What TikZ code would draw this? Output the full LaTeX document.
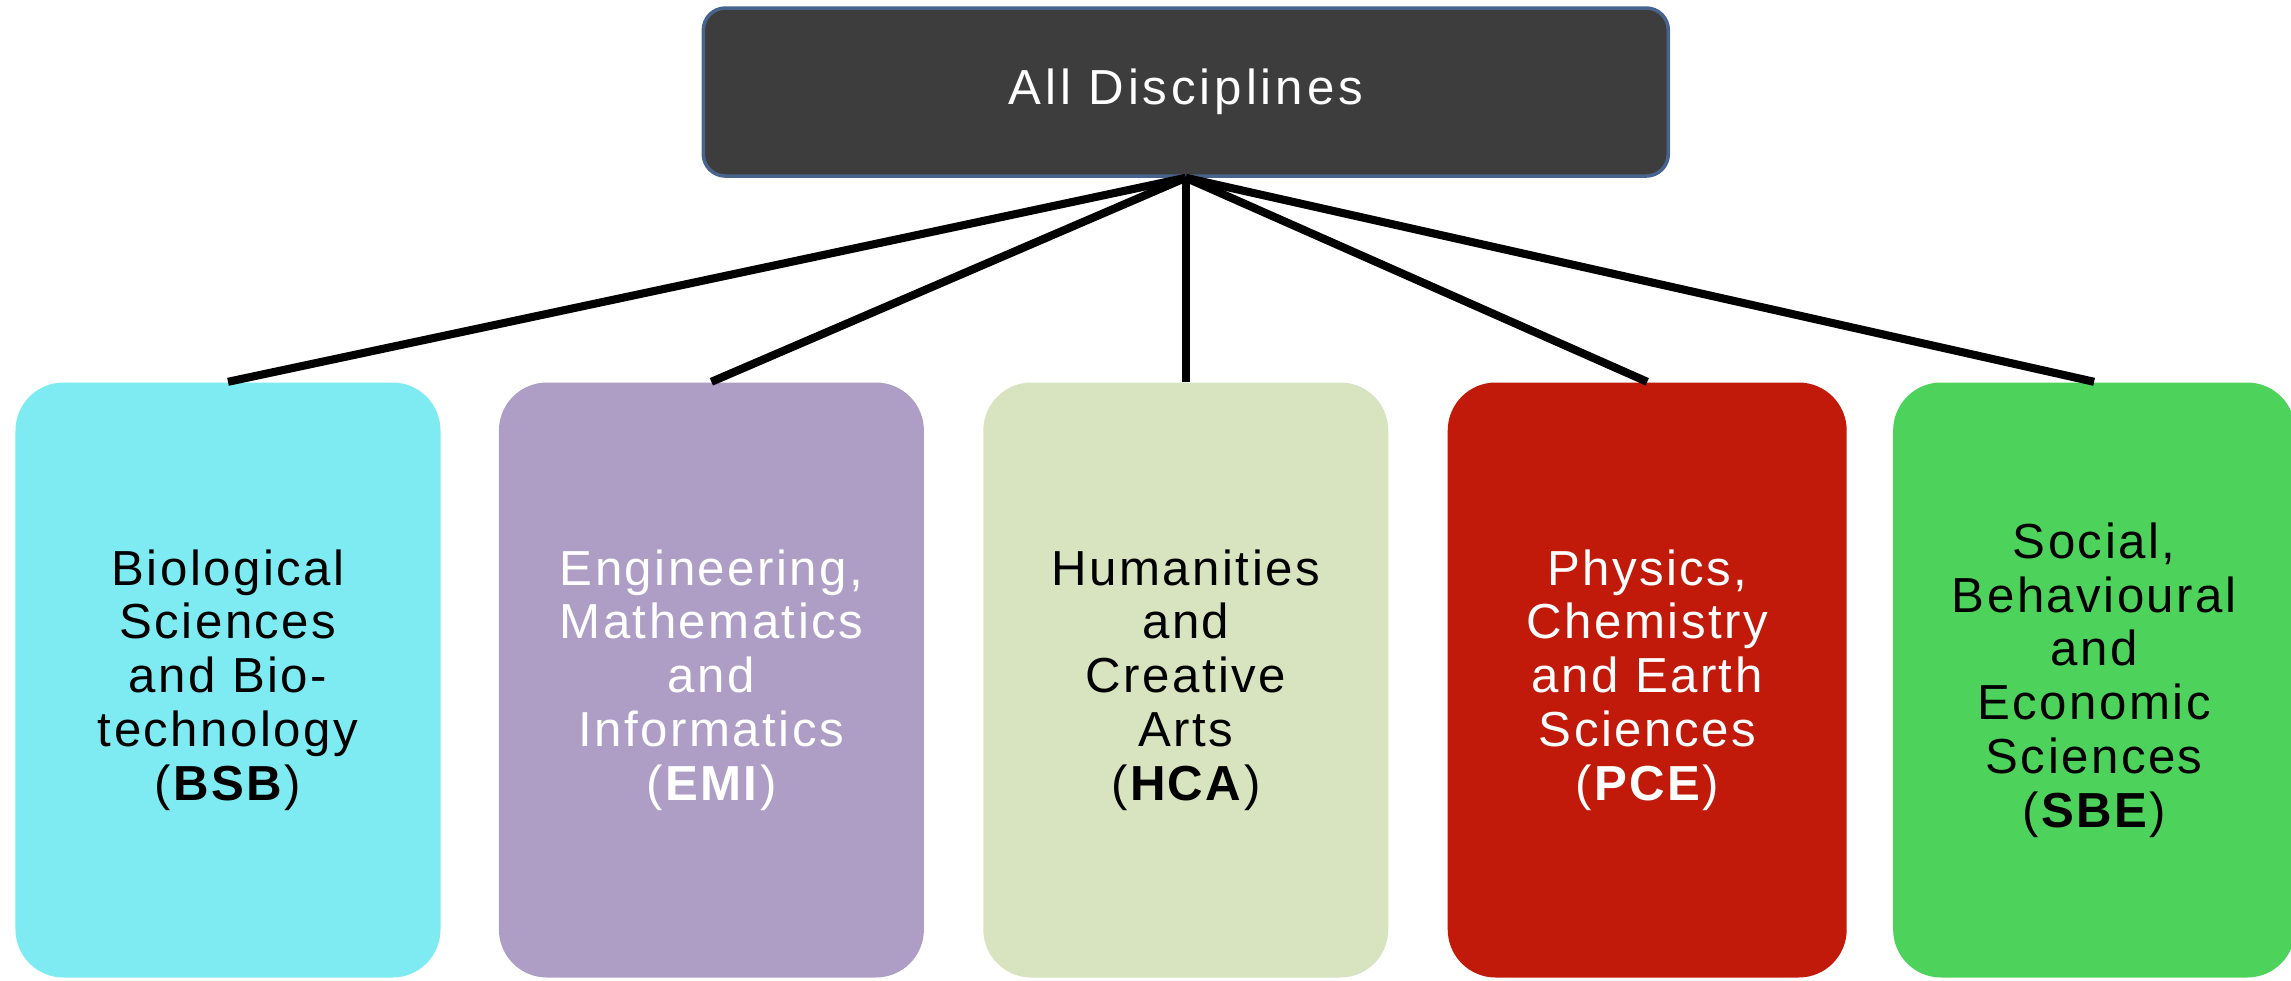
\documentclass[tikz,border=0pt]{standalone}
\usepackage{fontspec}
\setmainfont[LetterSpace=5]{Liberation Sans}
\usepackage{xcolor}
\usepackage{tikz}
\usetikzlibrary{positioning}

\definecolor{rootgray}{HTML}{3D3D3D}
\definecolor{rootedge}{HTML}{46648C}
\definecolor{bsbcyan}{HTML}{7EEBF2}
\definecolor{emililac}{HTML}{AE9EC6}
\definecolor{hcasage}{HTML}{D8E3BF}
\definecolor{pcered}{HTML}{C11A0A}
\definecolor{sbegreen}{HTML}{4DD35B}

\begin{document}
\begin{tikzpicture}[
        discipline/.style={rounded corners=0.48cm, minimum height=5.95cm, inner sep=0pt,
            align=center, font=\fontsize{14}{15.3}\selectfont},
        root/.style={draw=rootedge, line width=1pt, fill=rootgray, text=white,
            rounded corners=0.22cm, minimum width=9.65cm, minimum height=1.68cm,
            font=\fontsize{14}{15.3}\selectfont\addfontfeatures{LetterSpace=8}},
        spoke/.style={line width=2.3pt}
    ]
        \useasboundingbox (0,0) rectangle (22.91,9.8);

        \node (bsb) [discipline, fill=bsbcyan, minimum width=4.25cm] at (2.28,3.0) {Biological\\Sciences\\and Bio-\\technology\\(\textbf{BSB})};
        \node (emi) [discipline, fill=emililac, text=white, minimum width=4.25cm, right=0.57cm of bsb] {Engineering,\\Mathematics\\and\\Informatics\\(\textbf{EMI})};
        \node (hca) [discipline, fill=hcasage, minimum width=4.05cm, right=0.58cm of emi] {Humanities\\and\\Creative\\Arts\\(\textbf{HCA})};
        \node (pce) [discipline, fill=pcered, text=white, minimum width=3.99cm, right=0.58cm of hca] {Physics,\\Chemistry\\and Earth\\Sciences\\(\textbf{PCE})};
        \node (sbe) [discipline, fill=sbegreen, minimum width=4.02cm, right=0.45cm of pce] {Social,\\Behavioural\\and\\Economic\\Sciences\\(\textbf{SBE})};

        \node (all) [root, above=2.04cm of hca] {All Disciplines};

        \foreach \i in {bsb, emi, hca, pce, sbe} {
            \draw[spoke] (all.south) -- (\i.north);
        }
    \end{tikzpicture}
\end{document}
